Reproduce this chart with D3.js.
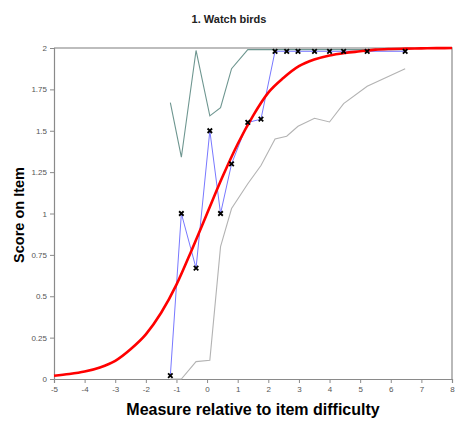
<!DOCTYPE html>
<html>
<head>
<meta charset="utf-8">
<script src="https://cdn.jsdelivr.net/npm/d3@7"></script>
<style>
  body { margin: 0; background: #fff; }
  svg { display: block; font-family: "Liberation Sans", Arial, sans-serif; }
</style>
</head>
<body>
<svg id="chart"></svg>
<script>
// observed points (x = measure relative to item difficulty)
var obsX = [-1.2, -0.84, -0.36, 0.09, 0.44, 0.8, 1.33, 1.76, 2.22, 2.6, 2.97, 3.51, 4.0, 4.46, 5.23, 6.47];
var obsY = [0.02, 1.0, 0.67, 1.5, 1.0, 1.3, 1.55, 1.57, 1.98, 1.98, 1.98, 1.98, 1.98, 1.98, 1.98, 1.98];
// confidence band
var upperY = [1.67, 1.34, 1.985, 1.59, 1.64, 1.875, 1.99, 1.99, 1.99, 1.99, 1.99, 1.99, 1.99, 1.99, 1.99, 1.99];
var lowerY = [0, 0, 0.105, 0.113, 0.8, 1.03, 1.18, 1.29, 1.45, 1.467, 1.527, 1.575, 1.553, 1.664, 1.769, 1.875];
// expected score curve
var curveX = [-5, -4.5, -4, -3.5, -3, -2.5, -2, -1.5, -1, -0.5, 0, 0.5, 1, 1.5, 2, 2.5, 3, 3.5, 4, 4.5, 5, 5.5, 6, 6.5, 7, 7.5, 8];
var curveY = [0.02, 0.03, 0.045, 0.07, 0.11, 0.18, 0.27, 0.4, 0.57, 0.78, 1.0, 1.22, 1.42, 1.59, 1.73, 1.82, 1.89, 1.93, 1.955, 1.97, 1.98, 1.99, 1.994, 1.996, 1.998, 1.999, 2.0];
var xTicks = [-5, -4, -3, -2, -1, 0, 1, 2, 3, 4, 5, 6, 7, 8];
var yTicks = [0, 0.25, 0.5, 0.75, 1, 1.25, 1.5, 1.75, 2];

var width = 458, height = 423;
var margin = {top: 48, right: 6, bottom: 44, left: 54};

var svg = d3.select('#chart')
    .attr('width', width)
    .attr('height', height);

var x = d3.scaleLinear().domain([-5, 8]).range([margin.left, width - margin.right]);
var y = d3.scaleLinear().domain([0, 2]).range([height - margin.bottom, margin.top]);

// frame top + right
svg.append('path')
    .attr('d', 'M' + x(-5) + ',' + y(2) + 'H' + x(8) + 'V' + y(0))
    .attr('fill', 'none')
    .attr('stroke', '#a8a8a8')
    .attr('stroke-width', 1.6);

var yAxis = d3.axisLeft(y).tickValues(yTicks).tickSize(4).tickPadding(3)
    .tickFormat(function(d) { return String(d); });
var xAxis = d3.axisBottom(x).tickValues(xTicks).tickSize(4).tickPadding(3)
    .tickFormat(function(d) { return String(d); });

var gy = svg.append('g').attr('transform', 'translate(' + margin.left + ',0)').call(yAxis);
var gx = svg.append('g').attr('transform', 'translate(0,' + (height - margin.bottom) + ')').call(xAxis);

[gx, gy].forEach(function(g) {
    g.select('.domain').attr('stroke', '#8a8a8a').attr('stroke-width', 1.2);
    g.selectAll('.tick line').attr('stroke', '#8a8a8a');
    g.selectAll('.tick text').attr('fill', '#555').style('font-size', '8px')
        .style('font-family', '"Liberation Sans", Arial, sans-serif');
});

var line = d3.line()
    .x(function(d) { return x(d[0]); })
    .y(function(d) { return y(d[1]); });

// lower band
svg.append('path')
    .datum(obsX.map(function(v, i) { return [v, lowerY[i]]; }))
    .attr('d', line)
    .attr('fill', 'none')
    .attr('stroke', '#b3b3b3')
    .attr('stroke-width', 1.1);

// upper band
svg.append('path')
    .datum(obsX.map(function(v, i) { return [v, upperY[i]]; }))
    .attr('d', line)
    .attr('fill', 'none')
    .attr('stroke', '#6e9690')
    .attr('stroke-width', 1.1);

// observed
svg.append('path')
    .datum(obsX.map(function(v, i) { return [v, obsY[i]]; }))
    .attr('d', line)
    .attr('fill', 'none')
    .attr('stroke', '#7878ff')
    .attr('stroke-width', 1);

// model curve
svg.append('path')
    .datum(curveX.map(function(v, i) { return [v, curveY[i]]; }))
    .attr('d', line.curve(d3.curveMonotoneX))
    .attr('fill', 'none')
    .attr('stroke', '#ff0000')
    .attr('stroke-width', 2.6);

svg.selectAll('.mark')
    .data(obsX.map(function(v, i) { return [v, obsY[i]]; }))
    .enter()
    .append('path')
    .attr('class', 'mark')
    .attr('transform', function(d) { return 'translate(' + x(d[0]) + ',' + y(d[1]) + ')'; })
    .attr('d', d3.symbol().type(d3.symbolTimes).size(15))
    .attr('fill', 'none')
    .attr('stroke', '#000')
    .attr('stroke-width', 1.8);

svg.append('text')
    .attr('x', 229).attr('y', 23)
    .attr('text-anchor', 'middle')
    .style('font-size', '11px').style('font-weight', 'bold')
    .attr('fill', '#222')
    .text('1. Watch birds');

svg.append('text')
    .attr('transform', 'translate(24,' + 215 + ') rotate(-90)')
    .attr('text-anchor', 'middle')
    .style('font-size', '14.5px').style('font-weight', 'bold')
    .attr('fill', '#000')
    .text('Score on Item');

svg.append('text')
    .attr('x', 253).attr('y', 415)
    .attr('text-anchor', 'middle')
    .style('font-size', '16px').style('font-weight', 'bold')
    .attr('fill', '#000')
    .text('Measure relative to item difficulty');
</script>
</body>
</html>
